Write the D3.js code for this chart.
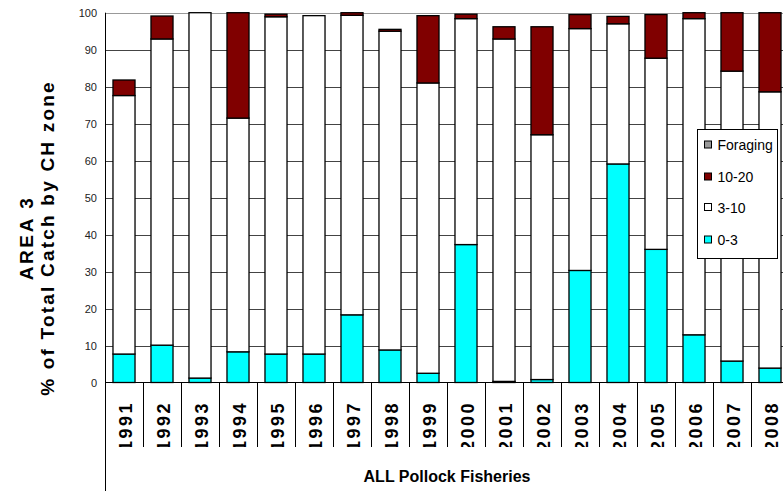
<!DOCTYPE html>
<html>
<head>
<meta charset="utf-8">
<script src="https://cdn.jsdelivr.net/npm/d3@7"></script>
<style>
  body { margin: 0; background: #fff; }
  text { font-family: "Liberation Sans", Arial, sans-serif; }
</style>
</head>
<body>
<div id="chart"></div>
<script>
var years = ["1991", "1992", "1993", "1994", "1995", "1996", "1997", "1998", "1999",
    "2000", "2001", "2002", "2003", "2004", "2005", "2006", "2007", "2008"];

// % of total catch by zone
var zone0_3   = [7.7, 10.1, 1.2, 8.3, 7.7, 7.7, 18.3, 8.8, 2.5, 37.3, 0.3, 0.8, 30.3, 59.1, 36.0, 12.9, 5.8, 3.9];
var zone3_10  = [69.9, 82.8, 98.8, 63.2, 91.2, 91.5, 81.0, 86.2, 78.5, 61.1, 92.6, 66.2, 65.4, 37.9, 51.7, 85.5, 78.4, 74.7];
var zone10_20 = [4.2, 6.2, 0, 28.5, 0.7, 0, 0.7, 0.5, 18.2, 1.2, 3.3, 29.2, 3.8, 2.0, 11.8, 1.6, 15.8, 21.4];
var foraging  = [0, 0, 0, 0, 0, 0, 0, 0, 0, 0, 0, 0, 0, 0, 0, 0, 0, 0];

var yTicks = [0, 10, 20, 30, 40, 50, 60, 70, 80, 90, 100];
var keys = ["0-3", "3-10", "10-20", "Foraging"];
var legendKeys = ["Foraging", "10-20", "3-10", "0-3"];
var colors = { "0-3": "#00ffff", "3-10": "#ffffff", "10-20": "#800000", "Foraging": "#999999" };

var W = 783, H = 491;
var plotLeft = 105, plotTop = 12.7, plotBottom = 382.5;

var rows = years.map(function(y, i) {
    return { year: y, "0-3": zone0_3[i], "3-10": zone3_10[i], "10-20": zone10_20[i], "Foraging": foraging[i] };
});

var svg = d3.select("#chart").append("svg")
    .attr("width", W)
    .attr("height", H);

var x = d3.scaleBand()
    .domain(years)
    .range([plotLeft, plotLeft + 38 * years.length])
    .paddingInner(0.42)
    .paddingOuter(0.21);

var y = d3.scaleLinear()
    .domain([0, 100])
    .range([plotBottom, plotTop]);

// gridlines
svg.append("g")
    .selectAll("line")
    .data(yTicks.filter(function(d) { return d > 0; }))
    .enter()
    .append("line")
    .attr("x1", plotLeft)
    .attr("x2", W)
    .attr("y1", function(d) { return Math.round(y(d)) + 0.5; })
    .attr("y2", function(d) { return Math.round(y(d)) + 0.5; })
    .attr("stroke", function(d) { return d == 100 ? "#999" : "#444"; })
    .attr("stroke-width", 1);

// stacked bars
var stack = d3.stack().keys(keys)(rows);

svg.append("g")
    .selectAll("g")
    .data(stack)
    .enter()
    .append("g")
    .attr("fill", function(d) { return colors[d.key]; })
    .selectAll("rect")
    .data(function(d) { return d.filter(function(p) { return p[1] - p[0] > 0; }); })
    .enter()
    .append("rect")
    .attr("x", function(d) { return x(d.data.year); })
    .attr("width", x.bandwidth())
    .attr("y", function(d) { return y(d[1]); })
    .attr("height", function(d) { return y(d[0]) - y(d[1]); })
    .attr("stroke", "#000")
    .attr("stroke-width", 1.3);

// y axis
var yAxis = svg.append("g")
    .attr("transform", "translate(" + plotLeft + ",0)")
    .call(d3.axisLeft(y).tickValues(yTicks).tickSize(0).tickPadding(8));
yAxis.select(".domain").remove();
yAxis.selectAll("text")
    .attr("font-size", 11)
    .attr("fill", "#222")
    .style("font-family", "Liberation Sans, Arial, sans-serif");

svg.append("line")
    .attr("x1", plotLeft + 0.5).attr("x2", plotLeft + 0.5)
    .attr("y1", plotTop).attr("y2", H)
    .attr("stroke", "#000");

svg.append("line")
    .attr("x1", plotLeft).attr("x2", W)
    .attr("y1", plotBottom).attr("y2", plotBottom)
    .attr("stroke", "#000");

// category dividers + year labels (clipped like the original)
svg.append("defs").append("clipPath")
    .attr("id", "yearclip")
    .append("rect")
    .attr("x", plotLeft).attr("y", plotBottom)
    .attr("width", W).attr("height", 447 - plotBottom);

svg.append("g")
    .selectAll("line")
    .data(years.slice(1))
    .enter()
    .append("line")
    .attr("x1", function(d) { return Math.round(x(d) - x.step() * 0.21) + 0.5; })
    .attr("x2", function(d) { return Math.round(x(d) - x.step() * 0.21) + 0.5; })
    .attr("y1", plotBottom)
    .attr("y2", 447)
    .attr("stroke", "#000");

svg.append("g")
    .attr("clip-path", "url(#yearclip)")
    .selectAll("text")
    .data(years)
    .enter()
    .append("text")
    .attr("transform", function(d) {
        return "translate(" + (x(d) + x.bandwidth() / 2 + 8) + ",451) rotate(-90)";
    })
    .attr("font-size", 18)
    .attr("font-weight", "bold")
    .attr("letter-spacing", 2.5)
    .text(function(d) { return d; });

svg.append("text")
    .attr("x", 447)
    .attr("y", 482)
    .attr("text-anchor", "middle")
    .attr("font-size", 16)
    .attr("font-weight", "bold")
    .text("ALL Pollock Fisheries");

// y axis title
var titleY = 238;
svg.append("text")
    .attr("transform", "translate(33," + titleY + ") rotate(-90)")
    .attr("text-anchor", "middle")
    .attr("font-size", 19)
    .attr("font-weight", "bold")
    .attr("letter-spacing", 2.6)
    .text("AREA 3");
svg.append("text")
    .attr("transform", "translate(54," + titleY + ") rotate(-90)")
    .attr("text-anchor", "middle")
    .attr("font-size", 19)
    .attr("font-weight", "bold")
    .attr("letter-spacing", 2.2)
    .text("% of Total Catch by CH zone");

// legend
var legend = svg.append("g").attr("transform", "translate(697.5,129.5)");
legend.append("rect")
    .attr("width", 80).attr("height", 129)
    .attr("fill", "#fff").attr("stroke", "#000");

var item = legend.selectAll("g.item")
    .data(legendKeys)
    .enter()
    .append("g")
    .attr("class", "item")
    .attr("transform", function(d, i) { return "translate(7," + [15.5, 47.5, 78, 110.5][i] + ")"; });

item.append("rect")
    .attr("x", 0).attr("y", -4)
    .attr("width", 7).attr("height", 7)
    .attr("fill", function(d) { return colors[d]; })
    .attr("stroke", "#000")
    .attr("stroke-width", 1);

item.append("text")
    .attr("x", 13)
    .attr("y", 5)
    .attr("font-size", 14)
    .text(function(d) { return d; });
</script>
</body>
</html>
